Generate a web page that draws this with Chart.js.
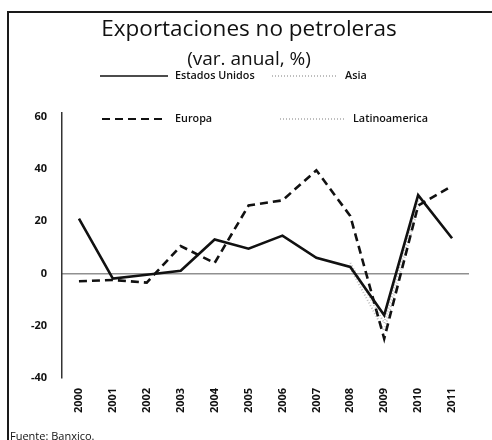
<!DOCTYPE html>
<html>
<head>
<meta charset="utf-8">
<title>Exportaciones no petroleras</title>
<script src="https://cdn.jsdelivr.net/npm/chart.js@4/dist/chart.umd.min.js"></script>
<style>
  html, body { margin: 0; padding: 0; background: #fff; overflow: hidden; }
  #wrap { position: relative; width: 492px; height: 440px; overflow: hidden; }
  #wrap canvas { position: absolute; left: 0; top: 0; }
  #frame { position: absolute; left: 7px; top: 11px; width: 500px; height: 440px;
           border-top: 2px solid #1a1a1a; border-left: 2px solid #1a1a1a; pointer-events: none; }
  #src { position: absolute; left: 10px; top: 429px; font: 11px 'Open Sans', sans-serif; color: #111; line-height: 13px; }
</style>
</head>
<body>
<div id="wrap">
  <canvas id="c" width="492" height="440"></canvas>
  <div id="frame"></div>
  <div id="src">Fuente: Banxico.</div>
</div>
<script>
// Non-oil exports, annual change (%)
const years = ['2000', '2001', '2002', '2003', '2004', '2005', '2006', '2007', '2008', '2009', '2010', '2011'];
const estadosUnidos = [21, -2, -0.5, 1, 13, 9.5, 14.5, 6, 2.5, -16, 30, 13.5];
const europa = [-3, -2.5, -3.5, 10.5, 4, 26, 28, 39.5, 22, -25, 26, 33.5];
const asia = [null, null, null, null, null, null, null, null, 4, -19, 28, null];
const latinoamerica = [null, null, null, null, null, null, null, null, 2, -22, 25, null];
const yTicks = [-40, -20, 0, 20, 40, 60];

const FONT = "'Open Sans', 'Noto Sans', sans-serif";

// Legend laid over the top of the plot, two columns by two rows
const legendSlots = [
  { x0: 100, x1: 168, tx: 175, y: 76 },
  { x0: 272, x1: 336, tx: 345, y: 76 },
  { x0: 102, x1: 166, tx: 175, y: 119 },
  { x0: 280, x1: 344, tx: 353, y: 119 }
];
const insetLegend = {
  id: 'insetLegend',
  afterDraw(chart) {
    const ctx = chart.ctx;
    ctx.save();
    chart.data.datasets.forEach((ds, i) => {
      const s = legendSlots[i];
      ctx.beginPath();
      ctx.strokeStyle = ds.borderColor;
      ctx.lineWidth = ds.legendWidth || ds.borderWidth;
      ctx.setLineDash(ds.borderDash || []);
      ctx.moveTo(s.x0, s.y);
      ctx.lineTo(s.x1, s.y);
      ctx.stroke();
      ctx.setLineDash([]);
      ctx.fillStyle = '#111';
      ctx.font = '600 10.8px ' + FONT;
      ctx.textBaseline = 'middle';
      ctx.textAlign = 'left';
      ctx.fillText(ds.label, s.tx, s.y);
    });
    ctx.restore();
  }
};

new Chart(document.getElementById('c'), {
  type: 'line',
  data: {
    labels: years,
    datasets: [
      { label: 'Estados Unidos', data: estadosUnidos, borderColor: '#111', borderWidth: 2.6, legendWidth: 1.5 },
      { label: 'Asia', data: asia, borderColor: 'rgba(110,110,110,0.45)', borderWidth: 2, borderDash: [1, 2] },
      { label: 'Europa', data: europa, borderColor: '#111', borderWidth: 2.6, borderDash: [8, 5], legendWidth: 2 },
      { label: 'Latinoamerica', data: latinoamerica, borderColor: 'rgba(110,110,110,0.45)', borderWidth: 2, borderDash: [1, 2] }
    ]
  },
  options: {
    responsive: false,
    animation: false,
    devicePixelRatio: 1,
    elements: { point: { radius: 0 }, line: { tension: 0 } },
    layout: { padding: { left: 29, right: 23, top: 0, bottom: 17 } },
    plugins: {
      legend: { display: false },
      tooltip: { enabled: false },
      title: {
        display: true,
        text: 'Exportaciones no petroleras',
        color: '#111',
        font: { family: FONT, size: 22.5, weight: '500', lineHeight: 1.2 },
        padding: { top: 16.5, bottom: 5 }
      },
      subtitle: {
        display: true,
        text: '(var. anual, %)',
        color: '#111',
        font: { family: FONT, size: 19, weight: '400', lineHeight: 1.2 },
        padding: { top: 0, bottom: 41.6 }
      }
    },
    scales: {
      x: {
        offset: true,
        grid: { display: false, drawTicks: false, offset: true },
        border: { display: false },
        ticks: {
          color: '#111',
          font: { family: FONT, size: 11, weight: 'bold' },
          minRotation: 90,
          maxRotation: 90,
          padding: 10
        }
      },
      y: {
        min: -40,
        max: 61.5,
        afterBuildTicks(scale) {
          scale.ticks = yTicks.map(v => ({ value: v }));
        },
        afterFit(scale) { scale.width = 33; },
        grid: {
          drawTicks: false,
          color: ctx => (ctx.tick && ctx.tick.value === 0 ? '#222' : 'rgba(0,0,0,0)'),
          lineWidth: 1.5
        },
        border: { display: true, color: '#333', width: 1.5, dash: [1, 1] },
        ticks: {
          color: '#111',
          font: { family: FONT, size: 11, weight: 'bold' },
          padding: 15
        }
      }
    }
  },
  plugins: [insetLegend]
});
</script>
</body>
</html>
